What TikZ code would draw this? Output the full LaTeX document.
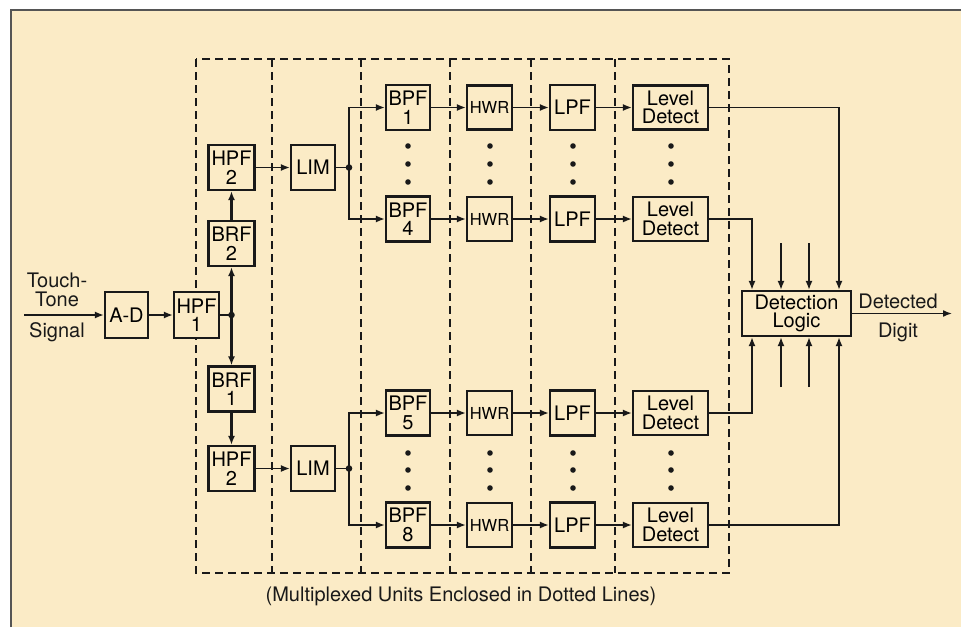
\documentclass[tikz,border=0pt]{standalone}
\usepackage{fontspec}
\setmainfont{TeX Gyre Heros}
\usetikzlibrary{arrows.meta}
\definecolor{paper}{RGB}{251,235,198}
\definecolor{ink}{RGB}{25,25,25}
\definecolor{rim}{RGB}{85,85,85}

\begin{document}
\begin{tikzpicture}[x=1pt, y=-1pt,
  box/.style={draw=ink, line width=2.2pt, fill=paper, inner sep=0pt,
              minimum width=45pt, minimum height=45pt, align=center,
              font=\fontsize{20}{18.5}\selectfont},
  hwrbox/.style={box, minimum height=44pt, font=\fontsize{16.5}{18}\selectfont},
  lvlbox/.style={box, minimum width=75pt, minimum height=44pt},
  arr/.style={-{Latex[length=9pt,width=7pt]}, line width=1.6pt, draw=ink},
  thickarr/.style={arr, line width=2.2pt},
  wire/.style={line width=1.6pt, draw=ink},
  zone/.style={draw=ink, line width=1.7pt, dash pattern=on 8pt off 5pt},
  lbl/.style={font=\fontsize{20}{18.5}\selectfont, text=ink, inner sep=0pt}
]
  \useasboundingbox (0,0) rectangle (961,627);
  \fill[paper] (11,10) rectangle (961,627);
  \draw[rim, line width=1.6pt] (11,627) -- (11,10) -- (961,10);

  % multiplexed units
  \draw[zone] (196,59) rectangle (729,573);
  \draw[zone] (272,59) -- (272,573);
  \draw[zone] (361,59) -- (361,573);
  \draw[zone] (450,59) -- (450,573);
  \draw[zone] (531,59) -- (531,573);
  \draw[zone] (615,59) -- (615,573);

  % front end
  \node[box, minimum width=43pt, minimum height=46pt] (ad) at (126.5,315) {A-D};
  \node[box, minimum height=46pt] (hpf1) at (196.5,315) {HPF\\1};
  \node[box, minimum width=46pt] (brf2) at (231.5,243.5) {BRF\\2};
  \node[box, minimum width=46pt] (hpf2a) at (231.5,167.5) {HPF\\2};
  \node[box, minimum width=46pt] (brf1) at (231.5,389) {BRF\\1};
  \node[box, minimum width=46pt] (hpf2b) at (231.5,468.5) {HPF\\2};
  \node[box, minimum width=44pt] (lim1) at (313,167.5) {LIM};
  \node[box, minimum width=44pt] (lim2) at (313,468.5) {LIM};

  % filter banks
  \node[box, minimum width=44pt] (bpf1) at (408,107.5) {BPF\\1};
  \node[box, minimum width=44pt] (bpf4) at (408,219) {BPF\\4};
  \node[box, minimum width=44pt] (bpf5) at (408,413) {BPF\\5};
  \node[box, minimum width=44pt] (bpf8) at (408,525) {BPF\\8};
  \node[hwrbox] (hwr1) at (489.5,107.5) {HWR};
  \node[hwrbox] (hwr4) at (489.5,219) {HWR};
  \node[hwrbox] (hwr5) at (489.5,413) {HWR};
  \node[hwrbox] (hwr8) at (489.5,525) {HWR};
  \node[box] (lpf1) at (572.5,107.5) {LPF};
  \node[box] (lpf4) at (572.5,219) {LPF};
  \node[box] (lpf5) at (572.5,413) {LPF};
  \node[box] (lpf8) at (572.5,525) {LPF};
  \node[lvlbox] (lvl1) at (670.5,107.5) {Level\\Detect};
  \node[lvlbox] (lvl4) at (670.5,219) {Level\\Detect};
  \node[lvlbox] (lvl5) at (670.5,413) {Level\\Detect};
  \node[lvlbox] (lvl8) at (670.5,525) {Level\\Detect};
  \node[box, minimum width=109pt] (logic) at (796.5,313.5) {Detection\\Logic};

  % labels
  \node[lbl, align=center] (tt) at (57,290) {Touch-\\Tone};
  \node[lbl, anchor=base] (sig) at (57,337) {Signal};
  \node[lbl, anchor=base] (det) at (898,308) {Detected};
  \node[lbl, anchor=base] (dig) at (898,337) {Digit};
  \node[lbl, anchor=base] (note) at (461,601)
    {(Multiplexed Units Enclosed in Dotted Lines)};

  \foreach \x in {408,490,573,671}
    \foreach \y in {146,164,182,453,470,488}
      \fill[ink] (\x,\y) circle (2.8pt);

  \coordinate (in) at (24,315);
  \coordinate (j0) at (231.5,315);
  \coordinate (j1) at (349,167.5);
  \coordinate (j2) at (349,468.5);
  \coordinate (out) at (952,313.5);
  \coordinate (ta) at (752,243);
  \coordinate (tb) at (781,243);
  \coordinate (tc) at (809,243);
  \coordinate (td) at (839,243);
  \coordinate (ba) at (752,387);
  \coordinate (bb) at (781,387);
  \coordinate (bc) at (809,387);
  \coordinate (bd) at (839,387);
  \fill[ink] (j0) circle (3.3pt);
  \fill[ink] (j1) circle (3.3pt);
  \fill[ink] (j2) circle (3.3pt);

  \draw[arr] (in) -- (ad);
  \draw[arr] (ad) -- (hpf1);
  \draw[wire] (hpf1) -- (j0);
  \draw[thickarr] (j0) -- (brf2);
  \draw[thickarr] (brf2) -- (hpf2a);
  \draw[thickarr] (j0) -- (brf1);
  \draw[thickarr] (brf1) -- (hpf2b);
  \draw[arr] (hpf2a) -- (lim1);
  \draw[arr] (hpf2b) -- (lim2);
  \draw[wire] (lim1) -- (j1);
  \draw[wire] (lim2) -- (j2);
  \draw[arr] (j1) |- (bpf1);
  \draw[arr] (j1) |- (bpf4);
  \draw[arr] (j2) |- (bpf5);
  \draw[arr] (j2) |- (bpf8);
  \draw[arr] (bpf1) -- (hwr1);
  \draw[arr] (bpf4) -- (hwr4);
  \draw[arr] (bpf5) -- (hwr5);
  \draw[arr] (bpf8) -- (hwr8);
  \draw[arr] (hwr1) -- (lpf1);
  \draw[arr] (hwr4) -- (lpf4);
  \draw[arr] (hwr5) -- (lpf5);
  \draw[arr] (hwr8) -- (lpf8);
  \draw[arr] (lpf1) -- (lvl1);
  \draw[arr] (lpf4) -- (lvl4);
  \draw[arr] (lpf5) -- (lvl5);
  \draw[arr] (lpf8) -- (lvl8);
  \draw[arr] (lvl1) -| (td |- logic.north);
  \draw[arr] (lvl4) -| (ta |- logic.north);
  \draw[arr] (tb) -- (tb |- logic.north);
  \draw[arr] (tc) -- (tc |- logic.north);
  \draw[arr] (lvl5) -| (ba |- logic.south);
  \draw[arr] (lvl8) -| (bd |- logic.south);
  \draw[arr] (bb) -- (bb |- logic.south);
  \draw[arr] (bc) -- (bc |- logic.south);
  \draw[arr] (logic) -- (out);
\end{tikzpicture}
\end{document}
